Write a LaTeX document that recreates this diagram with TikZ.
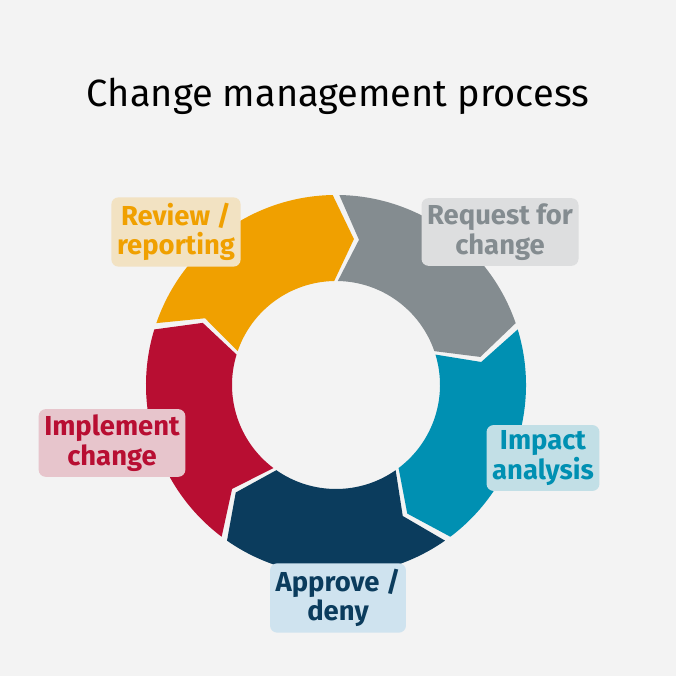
\documentclass[tikz,border=0pt]{standalone}
\usepackage{fontspec}
\setmainfont{Fira Sans}
\definecolor{bgc}{HTML}{F3F3F3}
\definecolor{corange}{HTML}{F0A000}
\definecolor{cgray}{HTML}{848C90}
\definecolor{cblue}{HTML}{0090B2}
\definecolor{cnavy}{HTML}{0B3C5D}
\definecolor{cred}{HTML}{B80E32}
\definecolor{lnavy}{HTML}{CFE3EF}
\begin{document}
\begin{tikzpicture}[x=0.025cm,y=0.025cm]
   \tikzstyle{every node}=[font=\fontsize{19.5}{21}\selectfont\bfseries, align=center, rounded corners=5pt, inner sep=4pt]
   \tikzstyle{tag}=[fill=#1!20!bgc, text=#1]
   \fill[bgc] (0,0) rectangle (676,676);

\node[fill=none, font=\fontsize{27}{30}\selectfont] (title) at (338,580) {Change management process};

\begin{scope}[shift={(336,291)}]
    \foreach \s/\col in {162/corange,90/cgray,18/cblue,-54/cnavy,-126/cred}
        \fill[\col] (\s-1:190) arc (\s-1:\s-71:190) -- (\s-79:147) -- (\s-71:104)
            arc (\s-71:\s-1:104) -- (\s-9:147) -- cycle;
\end{scope}

\node[tag=corange] (review) at (176,444) {Review /\\reporting};
\node[tag=cgray] (request) at (500,444) {Request for\\change};
\node[tag=cblue] (impact) at (543,218) {Impact\\analysis};
\node[fill=lnavy, text=cnavy] (approve) at (338,78) {Approve /\\deny};
\node[tag=cred] (implement) at (112,233) {Implement\\change};

\end{tikzpicture}
\end{document}
